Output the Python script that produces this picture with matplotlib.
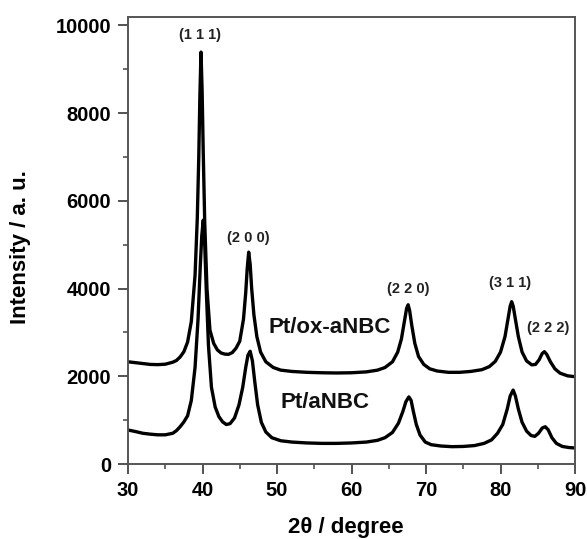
import matplotlib
matplotlib.use("Agg")
import matplotlib.pyplot as plt
from matplotlib.ticker import MultipleLocator

# Pt/ox-aNBC (upper trace)
ox_x = [30.0, 31.0, 32.0, 33.0, 34.0, 35.0, 36.0, 36.5, 37.0, 37.5, 38.0, 38.5, 39.0, 39.3,
        39.5, 39.65, 39.8, 39.95, 40.1, 40.3, 40.6, 41.0, 41.5, 42.0, 42.5, 43.0, 43.5, 44.0,
        44.5, 45.0, 45.5, 45.8, 46.0, 46.2, 46.4, 46.6, 46.9, 47.3, 47.8, 48.5, 49.5, 50.5,
        52.0, 54.0, 56.0, 58.0, 60.0, 62.0, 63.5, 64.5, 65.5, 66.2, 66.7, 67.1, 67.4, 67.6,
        67.8, 68.1, 68.5, 69.0, 69.7, 70.5, 71.5, 73.0, 74.5, 76.0, 77.5, 78.5, 79.3, 80.0,
        80.6, 81.0, 81.3, 81.5, 81.7, 82.0, 82.4, 82.9, 83.5, 84.2, 84.7, 85.2, 85.6, 85.9,
        86.2, 86.7, 87.3, 88.0, 89.0, 90.0]
ox_y = [2330, 2310, 2290, 2270, 2265, 2275, 2320, 2360, 2440, 2560, 2780, 3250, 4300, 5600,
        7000, 8400, 9390, 8500, 7100, 5500, 4000, 3050, 2750, 2600, 2530, 2505, 2500, 2540,
        2640, 2800, 3300, 3900, 4450, 4830, 4550, 4000, 3400, 2900, 2550, 2330, 2200, 2140,
        2110, 2090, 2080, 2075, 2080, 2100, 2140, 2200, 2330, 2550, 2850, 3250, 3550, 3630,
        3500, 3150, 2750, 2450, 2270, 2170, 2120, 2090, 2090, 2110, 2150, 2220, 2340, 2550,
        2900, 3300, 3600, 3700, 3600, 3300, 2900, 2550, 2350, 2260, 2270, 2380, 2520, 2560,
        2500, 2330, 2170, 2070, 2010, 1990]

# Pt/aNBC (lower trace)
a_x = [30.0, 31.0, 32.0, 33.0, 34.0, 35.0, 36.0, 36.5, 37.0, 37.5, 38.0, 38.5, 39.0, 39.4,
       39.7, 39.9, 40.1, 40.3, 40.5, 40.8, 41.2, 41.7, 42.2, 42.7, 43.2, 43.7, 44.3, 44.9,
       45.4, 45.8, 46.1, 46.4, 46.7, 47.0, 47.4, 47.9, 48.5, 49.3, 50.5, 52.0, 54.0, 56.0,
       58.0, 60.0, 62.0, 63.5, 64.5, 65.5, 66.3, 66.9, 67.3, 67.7, 68.0, 68.3, 68.7, 69.2,
       69.9, 70.7, 72.0, 73.5, 75.0, 76.5, 77.8, 78.8, 79.6, 80.3, 80.9, 81.3, 81.7, 82.0,
       82.4, 82.9, 83.5, 84.1, 84.6, 85.1, 85.6, 86.0, 86.4, 86.9, 87.5, 88.3, 89.2, 90.0]
a_y = [775, 740, 700, 680, 665, 665, 700, 760, 850, 960, 1100, 1450, 2200, 3300,
       4500, 5200, 5560, 5000, 4000, 2700, 1750, 1300, 1080, 960, 900, 920, 1050, 1350,
       1750, 2200, 2480, 2570, 2350, 1900, 1350, 950, 730, 600, 530, 500, 480, 470,
       470, 480, 500, 540, 600, 720, 930, 1200, 1420, 1530, 1450, 1200, 900, 660,
       500, 440, 410, 395, 400, 420, 470, 550, 700, 900, 1250, 1550, 1685, 1550,
       1250, 950, 750, 650, 630, 700, 820, 850, 780, 600, 470, 400, 375, 365]

peak_labels = ["(1 1 1)", "(2 0 0)", "(2 2 0)", "(3 1 1)", "(2 2 2)"]
peak_label_x = [39.7, 46.1, 67.6, 81.3, 86.4]
peak_label_y = [9770, 5150, 3990, 4120, 3100]

series_labels = ["Pt/ox-aNBC", "Pt/aNBC"]
series_label_x = [57.1, 56.4]
series_label_y = [3120, 1410]

x_ticks = [30, 40, 50, 60, 70, 80, 90]
y_ticks = [0, 2000, 4000, 6000, 8000, 10000]

plt.rcParams['font.family'] = ['Liberation Sans', 'DejaVu Sans']

fig = plt.figure(figsize=(5.87, 5.39), dpi=100)
ax = fig.add_axes([128 / 587, 1 - 464 / 539, (575 - 128) / 587, (464 - 17) / 539])

ax.plot(ox_x, ox_y, color='black', lw=2.4, solid_joinstyle='round')
ax.plot(a_x, a_y, color='black', lw=2.4, solid_joinstyle='round')

for t, x, y in zip(peak_labels, peak_label_x, peak_label_y):
    ax.text(x, y, t, ha='center', va='center', fontsize=10.5, fontweight='bold', color='#222222')
for t, x, y in zip(series_labels, series_label_x, series_label_y):
    ax.text(x, y, t, ha='center', va='center', fontsize=16, fontweight='bold', color='#111111')

ax.set_xlim(30, 90)
ax.set_ylim(0, 10190)
ax.set_xticks(x_ticks)
ax.set_yticks(y_ticks)
ax.xaxis.set_minor_locator(MultipleLocator(5))
ax.yaxis.set_minor_locator(MultipleLocator(1000))
ax.tick_params(which='major', direction='out', length=7, width=1.3, labelsize=14.5, pad=5, color='#444444')
ax.tick_params(which='minor', direction='out', length=3.5, width=1.1, color='#444444')
for lab in ax.get_xticklabels() + ax.get_yticklabels():
    lab.set_fontweight('bold')
for s in ax.spines.values():
    s.set_linewidth(1.4)
    s.set_color('#555555')

ax.set_xlabel("2θ / degree", fontsize=16, fontweight='bold', va='center')
ax.set_ylabel("Intensity / a. u.", fontsize=16, fontweight='bold', va='center')
ax.xaxis.set_label_coords((346 - 128) / (575 - 128), -(527 - 464) / (464 - 17))
ax.yaxis.set_label_coords(-(128 - 21) / (575 - 128), (464 - 247) / (464 - 17))

fig.savefig("out.png", dpi=100)
